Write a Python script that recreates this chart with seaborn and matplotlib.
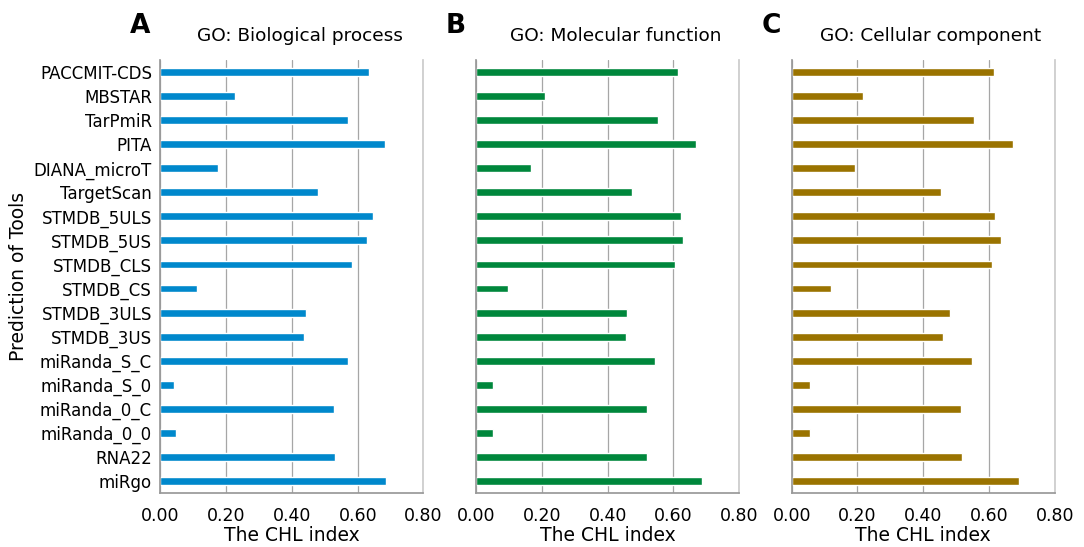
import pandas as pd
import matplotlib
matplotlib.use('Agg')
import matplotlib.pyplot as plt
import seaborn as sns

# tools in plotting order (top to bottom)
tools = ['PACCMIT-CDS', 'MBSTAR', 'TarPmiR', 'PITA', 'DIANA_microT', 'TargetScan',
         'STMDB_5ULS', 'STMDB_5US', 'STMDB_CLS', 'STMDB_CS', 'STMDB_3ULS', 'STMDB_3US',
         'miRanda_S_C', 'miRanda_S_0', 'miRanda_0_C', 'miRanda_0_0', 'RNA22', 'miRgo']

# CHL index per GO category
chl_bp = [0.633, 0.227, 0.569, 0.684, 0.176, 0.480, 0.648, 0.629, 0.582,
          0.111, 0.443, 0.436, 0.572, 0.042, 0.528, 0.048, 0.530, 0.686]
chl_mf = [0.613, 0.209, 0.554, 0.669, 0.167, 0.474, 0.622, 0.629, 0.605,
          0.096, 0.458, 0.457, 0.545, 0.051, 0.521, 0.052, 0.520, 0.688]
chl_cc = [0.614, 0.217, 0.553, 0.674, 0.191, 0.455, 0.619, 0.637, 0.608,
          0.119, 0.480, 0.461, 0.549, 0.056, 0.514, 0.056, 0.519, 0.692]

panels = [('A', 'GO: Biological process', chl_bp, '#0088cc'),
          ('B', 'GO: Molecular function', chl_mf, '#00873c'),
          ('C', 'GO: Cellular component', chl_cc, '#9a7300')]

sns.set_theme(style='whitegrid')
plt.rcParams['font.family'] = ['DejaVu Sans']
plt.rcParams['text.color'] = 'black'
plt.rcParams['axes.labelcolor'] = 'black'
plt.rcParams['xtick.color'] = 'black'
plt.rcParams['ytick.color'] = 'black'

fig, axes = plt.subplots(1, 3, figsize=(10.84, 5.47), dpi=100, sharey=True)
fig.subplots_adjust(left=0.148, right=0.973, top=0.89, bottom=0.099, wspace=0.2)

for ax, (letter, title, vals, color) in zip(axes, panels):
    df = pd.DataFrame({'tool': tools, 'chl': vals})
    sns.barplot(data=df, x='chl', y='tool', color=color, width=0.33,
                saturation=1, ax=ax)
    ax.set_xlim(0, 0.8)
    ax.set_xticks([0, 0.2, 0.4, 0.6, 0.8])
    ax.set_xticklabels([f'{t:.2f}' for t in [0, 0.2, 0.4, 0.6, 0.8]], fontsize=12.5)
    ax.tick_params(axis='y', labelsize=12, length=0, pad=6)
    ax.tick_params(axis='x', length=0, pad=10)
    ax.grid(axis='x', color='0.65', linewidth=0.9)
    ax.grid(axis='y', visible=False)
    ax.spines['top'].set_visible(False)
    ax.spines['left'].set_color('0.6')
    ax.spines['bottom'].set_color('0.6')
    ax.spines['right'].set_color('0.8')
    ax.set_xlabel('The CHL index', fontsize=13.5, labelpad=1)
    ax.set_ylabel('')
    ax.set_title(title, fontsize=13.3, pad=14, x=0.53)
    ax.text(-0.115, 1.11, letter, transform=ax.transAxes, fontsize=19,
            fontweight='bold', va='top', ha='left')

axes[0].set_ylabel('Prediction of Tools', fontsize=13.5)

plt.savefig('out.png', dpi=100)
